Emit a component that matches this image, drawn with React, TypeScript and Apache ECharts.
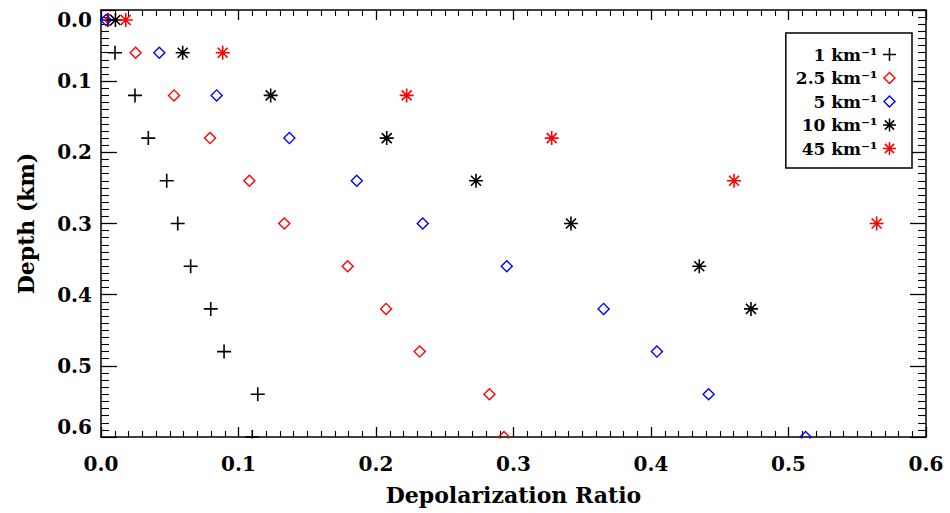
import React, { useEffect, useRef } from "react";
import * as echarts from "echarts";

// Depth levels (km) shared by all series
const depthKm = [0.014, 0.06, 0.12, 0.18, 0.24, 0.3, 0.36, 0.42, 0.48, 0.54, 0.6];

const seriesNames = ["1 km⁻¹", "2.5 km⁻¹", "5 km⁻¹", "10 km⁻¹", "45 km⁻¹"];

// Depolarization ratio for each extinction value (one per depth level)
const ratioExt1 = [0.005, 0.0102, 0.0247, 0.0344, 0.0478, 0.0558, 0.0652, 0.0798, 0.0895, 0.114, 0.11];
const ratioExt2p5 = [0.0065, 0.0252, 0.0531, 0.0793, 0.1079, 0.1333, 0.1794, 0.2073, 0.2318, 0.2825, 0.2931];
const ratioExt5 = [0.0036, 0.0424, 0.0841, 0.137, 0.186, 0.234, 0.2951, 0.3655, 0.4043, 0.4419, 0.5124];
const ratioExt10 = [0.0105, 0.0594, 0.1234, 0.2078, 0.2727, 0.3418, 0.4351, 0.4727];
const ratioExt45 = [0.018, 0.0885, 0.2223, 0.3278, 0.4604, 0.5641];

const xTickValues = [0, 0.1, 0.2, 0.3, 0.4, 0.5, 0.6];
const yTickValues = [0, 0.1, 0.2, 0.3, 0.4, 0.5, 0.6];

const PLUS = "path://M6.2,0H7.8V14H6.2Z M0,6.2H14V7.8H0Z";
const DIAMOND = "path://M7,0L14,7L7,14L0,7Z M7,2.1L2.1,7L7,11.9L11.9,7Z";
const STAR =
  "path://M0,6.2H14V7.8H0Z M6.2,0H7.8V14H6.2Z M2.57,1.43L12.57,11.43L11.43,12.57L1.43,2.57Z M12.57,2.57L2.57,12.57L1.43,11.43L11.43,1.43Z M5.2,5.2H8.8V8.8H5.2Z";

const FONT = "DejaVu Serif";

function pairs(xs: number[]) {
  return xs.map((x, i) => [x, depthKm[i]]);
}

export default function App() {
  const ref = useRef<HTMLDivElement>(null);

  useEffect(() => {
    if (!ref.current) return;
    const chart = echarts.init(ref.current, undefined, { renderer: "svg" });

    const axisLine = { show: true, onZero: false, lineStyle: { color: "#000", width: 1.5 } };
    const fmt = (v: number) => v.toFixed(1);

    const xBase = {
      type: "value",
      min: xTickValues[0],
      max: xTickValues[xTickValues.length - 1],
      interval: 0.1,
      axisLine,
      splitLine: { show: false },
      axisTick: { show: true, inside: true, length: 10, lineStyle: { color: "#000", width: 1.3 } },
      minorTick: { show: true, splitNumber: 10, length: 6, lineStyle: { color: "#000", width: 1.1 } },
      minorSplitLine: { show: false },
    };
    const yBase = {
      type: "value",
      inverse: true,
      min: yTickValues[0],
      max: yTickValues[yTickValues.length - 1],
      interval: 0.1,
      axisLine,
      splitLine: { show: false },
      axisTick: { show: true, inside: true, length: 16, lineStyle: { color: "#000", width: 1.3 } },
      minorTick: { show: true, splitNumber: 10, length: 8, lineStyle: { color: "#000", width: 1.1 } },
      minorSplitLine: { show: false },
    };

    const mk = (name: string, xs: number[], symbol: string, size: number, color: string) => ({
      name,
      type: "scatter",
      xAxisIndex: 0,
      yAxisIndex: 0,
      data: pairs(xs),
      symbol,
      symbolSize: size,
      clip: false,
      itemStyle: { color, opacity: 1 },
      emphasis: { disabled: true },
    });

    chart.setOption({
      animation: false,
      backgroundColor: "#fff",
      grid: { left: 101, right: 24, top: 10, bottom: 76 },
      xAxis: [
        {
          ...xBase,
          position: "bottom",
          name: "Depolarization Ratio",
          nameLocation: "middle",
          nameGap: 47,
          nameTextStyle: { fontFamily: FONT, fontSize: 22, fontWeight: "bold", color: "#000" },
          axisLabel: {
            show: true,
            margin: 17,
            formatter: fmt,
            fontFamily: FONT,
            fontSize: 20,
            fontWeight: "bold",
            color: "#000",
          },
        },
        { ...xBase, position: "top", axisLabel: { show: false } },
      ],
      yAxis: [
        {
          ...yBase,
          position: "left",
          name: "Depth (km)",
          nameLocation: "middle",
          nameGap: 64,
          nameTextStyle: { fontFamily: FONT, fontSize: 22, fontWeight: "bold", color: "#000" },
          axisLabel: {
            show: true,
            margin: 9,
            formatter: fmt,
            fontFamily: FONT,
            fontSize: 20,
            fontWeight: "bold",
            color: "#000",
            verticalAlignMinLabel: "top",
            verticalAlignMaxLabel: "bottom",
          },
        },
        { ...yBase, position: "right", axisLabel: { show: false } },
      ],
      legend: {
        orient: "vertical",
        right: 38,
        top: 33,
        align: "right",
        itemWidth: 14,
        itemHeight: 13,
        itemGap: 6.5,
        padding: [13, 16, 11, 10],
        borderColor: "#000",
        borderWidth: 1.5,
        backgroundColor: "#fff",
        selectedMode: false,
        textStyle: { fontFamily: FONT, fontSize: 17, fontWeight: "bold", color: "#000", lineHeight: 17 },
        data: seriesNames,
      },
      graphic: [
        {
          type: "rect",
          z: 100,
          silent: true,
          shape: { x: 100, y: 438.5, width: 828, height: 9 },
          style: { fill: "#fff" },
        },
      ],
      series: [
        mk(seriesNames[0], ratioExt1, PLUS, 14, "#000"),
        mk(seriesNames[1], ratioExt2p5, DIAMOND, 13, "#ff0000"),
        mk(seriesNames[2], ratioExt5, DIAMOND, 13, "#0000ff"),
        mk(seriesNames[3], ratioExt10, STAR, 14, "#000"),
        mk(seriesNames[4], ratioExt45, STAR, 14, "#ff0000"),
      ],
    });

    return () => chart.dispose();
  }, []);

  return (
    <div
      ref={ref}
      style={{ position: "fixed", left: 0, top: 0, width: 950, height: 513, background: "#fff" }}
    />
  );
}
